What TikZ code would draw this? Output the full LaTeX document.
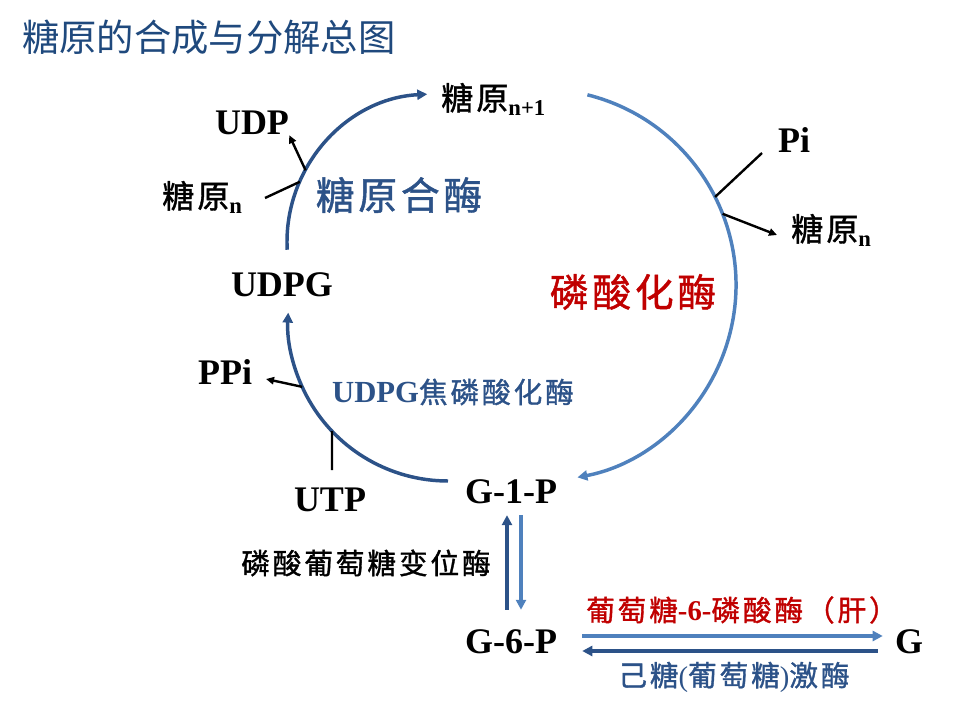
\documentclass[tikz,border=0pt]{standalone}
\usepackage{fontspec}
\setmainfont{Liberation Serif}
\newfontfamily\cjk{Noto Sans CJK SC}
\newfontfamily\cjksp[LetterSpace=10,FakeBold=1.2]{Noto Sans CJK SC}
\usetikzlibrary{arrows.meta}
\definecolor{dkblue}{RGB}{44,82,136}
\definecolor{ltblue}{RGB}{79,129,189}
\definecolor{ttlblue}{RGB}{31,73,125}
\definecolor{enzred}{RGB}{192,0,0}
\newcommand{\gsub}[1]{\raisebox{-4.5pt}{\rmfamily\bfseries\fontsize{17}{19}\selectfont #1}}

\begin{document}
\begin{tikzpicture}[x=0.75pt,y=0.75pt,
  mol/.style={inner sep=0pt,font=\fontsize{27}{32}\selectfont\bfseries},
  glyc/.style={inner sep=0pt,anchor=base west,font=\fontsize{24}{28}\selectfont\cjksp},
  enzbig/.style={inner sep=0pt,font=\fontsize{29}{34}\selectfont\cjksp},
  enz/.style={inner sep=0pt,font=\fontsize{21.5}{26}\selectfont\cjksp},
  tip/.style={-{Triangle[length=7.5pt,width=7.5pt]}},
  dkarr/.style={tip,draw=dkblue,line width=2.6pt},
  ltarr/.style={tip,draw=ltblue,line width=2.6pt},
  blk/.style={line width=1.8pt},
  blkarr/.style={blk,-{Triangle[length=6pt,width=5.5pt]}}]
  \useasboundingbox (0,0) rectangle (964,-713);

  \node[anchor=west,inner sep=0pt,text=ttlblue,font=\fontsize{28}{32}\selectfont\cjk] (title) at (22,-37) {糖原的合成与分解总图};

  % metabolites
  \node[mol] (udp) at (252,-123) {UDP};
  \node[mol] (pi) at (794,-140) {Pi};
  \node[mol] (udpg) at (282,-285) {UDPG};
  \node[mol] (ppi) at (225,-372) {PPi};
  \node[mol] (utp) at (330,-500) {UTP};
  \node[mol] (g1p) at (511,-492) {G-1-P};
  \node[mol] (g6p) at (511,-642) {G-6-P};
  \node[mol] (g) at (909,-642) {G};
  \node[glyc] (glyn1) at (441,-110) {糖原\gsub{n+1}};
  \node[glyc] (glynl) at (162,-208) {糖原\gsub{n}};
  \node[glyc] (glynr) at (791,-241) {糖原\gsub{n}};

  % enzymes
  \node[enzbig,text=dkblue] (gs) at (399,-195) {糖原合酶};
  \node[enzbig,text=enzred] (gp) at (633,-292) {磷酸化酶};
  \node[enz,text=dkblue] (ugp) at (453,-392) {{\rmfamily\bfseries\fontsize{23}{27}\selectfont UDPG}焦磷酸化酶};
  \node[enz] (pgm) at (366,-563) {磷酸葡萄糖变位酶};
  \node[enz,text=enzred] (g6pase) at (742,-610) {葡萄糖{\rmfamily\bfseries -6-}磷酸酶（肝）};
  \node[enz,text=dkblue] (hk) at (734,-677) {己糖{\rmfamily (}葡萄糖{\rmfamily )}激酶};

  % the cycle
  \coordinate (csyn) at (435,-242);
  \coordinate (cugp) at (448,-321);
  \coordinate (cphos) at (540,-285);
  \draw[dkarr] ([shift={(183:148)}]csyn) arc[start angle=183,end angle=93,radius=148];
  \draw[ltarr] ([shift={(76:196)}]cphos) arc[start angle=76,end angle=-79,radius=196];
  \draw[dkarr] ([shift={(270:160)}]cugp) arc[start angle=270,end angle=177,radius=160];

  % side reactions
  \coordinate (udpfoot) at ([shift={(151:148)}]csyn);
  \coordinate (glynin) at ([shift={(156:148)}]csyn);
  \coordinate (glynout) at (265,-198);
  \coordinate (pifoot) at ([shift={(26.7:196)}]cphos);
  \coordinate (piend) at (762,-153);
  \coordinate (glynrfoot) at ([shift={(21.3:196)}]cphos);
  \coordinate (glynrtip) at (777,-235);
  \coordinate (ppifoot) at ([shift={(204.3:160)}]cugp);
  \coordinate (ppitip) at (266,-379);
  \coordinate (utpfoot) at ([shift={(223.5:160)}]cugp);
  \coordinate (utpend) at (332,-470);
  \draw[blkarr] (udpfoot) -- (udp.south east);
  \draw[blk] (glynout) -- (glynin);
  \draw[blk] (piend) -- (pifoot);
  \draw[blkarr] (glynrfoot) -- (glynrtip);
  \draw[blkarr] (ppifoot) -- (ppitip);
  \draw[blk] (utpend) -- (utpfoot);

  % G-1-P / G-6-P / G
  \draw[dkarr,shorten <=14.9pt,shorten >=8.1pt] ([shift={(-4,0)}]g6p.north) -- ([shift={(-4,0)}]g1p.south);
  \draw[ltarr,shorten <=8.1pt,shorten >=14.9pt] ([shift={(10,0)}]g1p.south) -- ([shift={(10,0)}]g6p.north);
  \draw[ltarr,shorten <=18.75pt,shorten >=9pt] ([shift={(0,6)}]g6p.east) -- ([shift={(0,6)}]g.west);
  \draw[dkarr,shorten <=12.75pt,shorten >=18.75pt] ([shift={(0,-9)}]g.west) -- ([shift={(0,-9)}]g6p.east);
\end{tikzpicture}
\end{document}
